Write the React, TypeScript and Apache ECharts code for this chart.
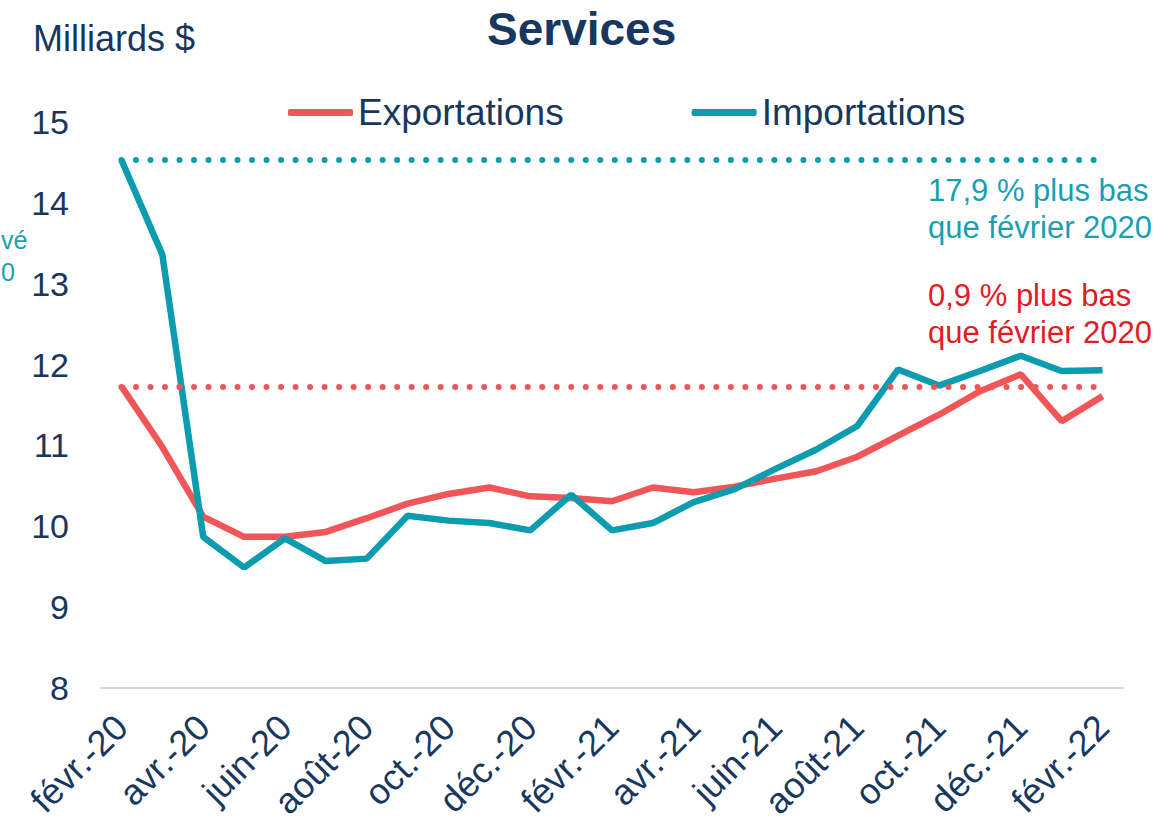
import React, { useEffect, useRef } from "react";
import * as echarts from "echarts";

const categories = [
  "févr.-20", "mars-20", "avr.-20", "mai-20", "juin-20", "juil.-20", "août-20",
  "sept.-20", "oct.-20", "nov.-20", "déc.-20", "janv.-21", "févr.-21", "mars-21",
  "avr.-21", "mai-21", "juin-21", "juil.-21", "août-21", "sept.-21", "oct.-21",
  "nov.-21", "déc.-21", "janv.-22", "févr.-22",
];

const exportations = [
  11.73, 10.98, 10.12, 9.87, 9.87, 9.93, 10.1, 10.28, 10.4, 10.48, 10.37, 10.35, 10.31,
  10.48, 10.42, 10.49, 10.59, 10.68, 10.86, 11.12, 11.38, 11.67, 11.88, 11.3, 11.61,
];

const importations = [
  14.53, 13.36, 9.87, 9.49, 9.85, 9.57, 9.6, 10.13, 10.07, 10.04, 9.95, 10.39, 9.95,
  10.04, 10.3, 10.46, 10.71, 10.95, 11.24, 11.94, 11.74, 11.92, 12.11, 11.92, 11.93,
];

const yTicks = { min: 8, max: 15, interval: 1 };

const NAVY = "#17375E";
const RED = "#F05557";
const TEAL = "#0B9CB0";
const RED_TEXT = "#E31B23";
const TEAL_TEXT = "#1A9FB2";
const FONT = "'Liberation Sans', Arial, sans-serif";

export default function App() {
  const ref = useRef<HTMLDivElement>(null);
  useEffect(() => {
    if (!ref.current) return;
    const chart = echarts.init(ref.current, undefined, { renderer: "svg" });
    const last = categories.length - 1;
    const dotted = (color: string) => ({
      color,
      width: 6,
      type: [0.01, 14.5] as any,
      cap: "round" as any,
    });
    chart.setOption({
      animation: false,
      textStyle: { fontFamily: FONT },
      grid: { left: 101, right: 47, top: 122, bottom: 136, containLabel: false },
      legend: {
        left: 283,
        top: 89,
        itemWidth: 65,
        itemHeight: 7,
        itemGap: 128,
        icon: "roundRect",
        textStyle: { fontSize: 37, color: NAVY, fontFamily: FONT },
        data: ["Exportations", "Importations"],
      },
      xAxis: {
        type: "category",
        data: categories,
        boundaryGap: true,
        axisLine: { show: true, lineStyle: { color: "#D9D9D9", width: 2 } },
        axisTick: { show: false },
        splitLine: { show: false },
        axisLabel: {
          interval: 1,
          rotate: 45,
          fontSize: 36,
          color: NAVY,
          margin: 33,
          fontFamily: FONT,
        },
      },
      yAxis: {
        type: "value",
        min: yTicks.min,
        max: yTicks.max,
        interval: yTicks.interval,
        axisLine: { show: false },
        axisTick: { show: false },
        splitLine: { show: false },
        axisLabel: { fontSize: 34, color: NAVY, margin: 32, fontFamily: FONT },
      },
      series: [
        {
          name: "Exportations",
          type: "line",
          data: exportations,
          showSymbol: false,
          symbol: "none",
          itemStyle: { color: RED },
          lineStyle: { color: RED, width: 6.5 },
          z: 3,
          markLine: {
            silent: true,
            symbol: ["none", "none"],
            label: { show: false },
            lineStyle: dotted(RED),
            data: [[{ coord: [0, exportations[0]] }, { coord: [last, exportations[0]] }]],
          },
        },
        {
          name: "Importations",
          type: "line",
          data: importations,
          showSymbol: false,
          symbol: "none",
          itemStyle: { color: TEAL },
          lineStyle: { color: TEAL, width: 6.5 },
          z: 4,
          markLine: {
            silent: true,
            symbol: ["none", "none"],
            label: { show: false },
            lineStyle: dotted(TEAL),
            data: [[{ coord: [0, importations[0]] }, { coord: [last, importations[0]] }]],
          },
        },
      ],
      graphic: [
        {
          type: "text",
          left: 582 - 95,
          top: 6,
          style: {
            text: "Services",
            font: `bold 46px ${FONT}`,
            fill: NAVY,
          },
        },
        {
          type: "text",
          x: 33,
          y: 38,
          style: {
            text: "Milliards $",
            font: `36px ${FONT}`,
            fill: NAVY,
            verticalAlign: "middle",
          },
        },
        {
          type: "text",
          x: 928,
          y: 172,
          style: {
            text: "17,9 % plus bas\nque février 2020",
            font: `31px ${FONT}`,
            lineHeight: 37,
            fill: TEAL_TEXT,
          },
        },
        {
          type: "text",
          x: 928,
          y: 277,
          style: {
            text: "0,9 % plus bas\nque février 2020",
            font: `31px ${FONT}`,
            lineHeight: 37,
            fill: RED_TEXT,
          },
        },
        {
          type: "text",
          x: 1,
          y: 240,
          style: {
            text: "vé",
            font: `25px ${FONT}`,
            fill: TEAL_TEXT,
            align: "left",
            verticalAlign: "middle",
          },
        },
        {
          type: "text",
          x: 1,
          y: 272,
          style: {
            text: "0",
            font: `25px ${FONT}`,
            fill: TEAL_TEXT,
            align: "left",
            verticalAlign: "middle",
          },
        },
      ],
    });
    return () => chart.dispose();
  }, []);
  return (
    <div
      ref={ref}
      style={{ position: "absolute", left: 0, top: 0, width: 1170, height: 824 }}
    />
  );
}
